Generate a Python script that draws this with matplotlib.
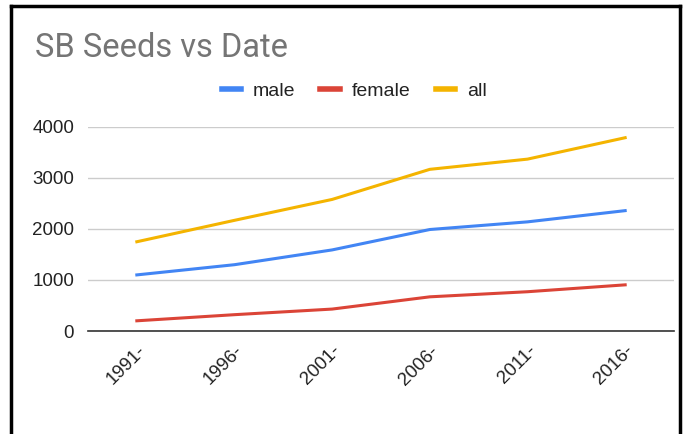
import matplotlib
matplotlib.use('Agg')
import matplotlib.pyplot as plt
from matplotlib.lines import Line2D
from matplotlib.transforms import ScaledTranslation

# data
years = ['1991-', '1996-', '2001-', '2006-', '2011-', '2016-']
male = [1100, 1300, 1590, 1990, 2140, 2360]
female = [200, 320, 430, 670, 770, 905]
all_seeds = [1750, 2170, 2580, 3170, 3370, 3790]

plt.rcParams['font.family'] = ['Liberation Sans', 'DejaVu Sans']

fig = plt.figure(figsize=(6.83, 4.34), dpi=100)
ax = fig.add_axes([88 / 683, 1 - 331 / 434, (674 - 88) / 683, (331 - 127) / 434])

x = range(len(years))
ax.plot(x, male, color='#4285f4', lw=2.2, label='male')
ax.plot(x, female, color='#db4437', lw=2.2, label='female')
ax.plot(x, all_seeds, color='#f4b400', lw=2.2, label='all')

ax.set_xlim(-0.5, len(years) - 0.5)
ax.set_ylim(0, 4000)
ax.set_yticks([0, 1000, 2000, 3000, 4000])
ax.set_yticklabels(['0', '1000', '2000', '3000', '4000'], fontsize=13.5, color='#222222')
ax.set_xticks(list(x))
ax.set_xticklabels(years, rotation=45, ha='right', rotation_mode='anchor',
                   fontsize=13.5, color='#222222')
shift = ScaledTranslation(10 / 100, 0, fig.dpi_scale_trans)
for lab in ax.get_xticklabels():
    lab.set_transform(lab.get_transform() + shift)
ax.tick_params(axis='y', length=0, pad=10)
ax.tick_params(axis='x', length=0, pad=8)
ax.grid(axis='y', color='#cccccc', lw=1)
ax.set_axisbelow(True)
for s in ['top', 'right', 'left']:
    ax.spines[s].set_visible(False)
ax.spines['bottom'].set_color('#333333')
ax.spines['bottom'].set_linewidth(1.2)
ax.spines['bottom'].set_zorder(3)

fig.text(35 / 683, 1 - 48 / 434, 'SB Seeds vs Date', fontsize=23.5, color='#757575',
         va='center', ha='left', family='Roboto')
leg = fig.legend(loc='center', bbox_to_anchor=(354 / 683, 1 - 91 / 434), ncol=3,
                 frameon=False, fontsize=14, handlelength=1.0, columnspacing=1.3,
                 handletextpad=0.6, labelcolor='#222222')
for h in leg.get_lines():
    h.set_linewidth(4)

# black frame of the screenshot
fig.add_artist(Line2D([11 / 683, 11 / 683], [0, 1 - 6 / 434], color='black', lw=2.5,
                      transform=fig.transFigure))
fig.add_artist(Line2D([11 / 683, 680 / 683], [1 - 6 / 434, 1 - 6 / 434], color='black',
                      lw=2.5, transform=fig.transFigure))
fig.add_artist(Line2D([680 / 683, 680 / 683], [0, 1 - 6 / 434], color='black', lw=2.5,
                      transform=fig.transFigure))

fig.savefig('out.png', dpi=100)
